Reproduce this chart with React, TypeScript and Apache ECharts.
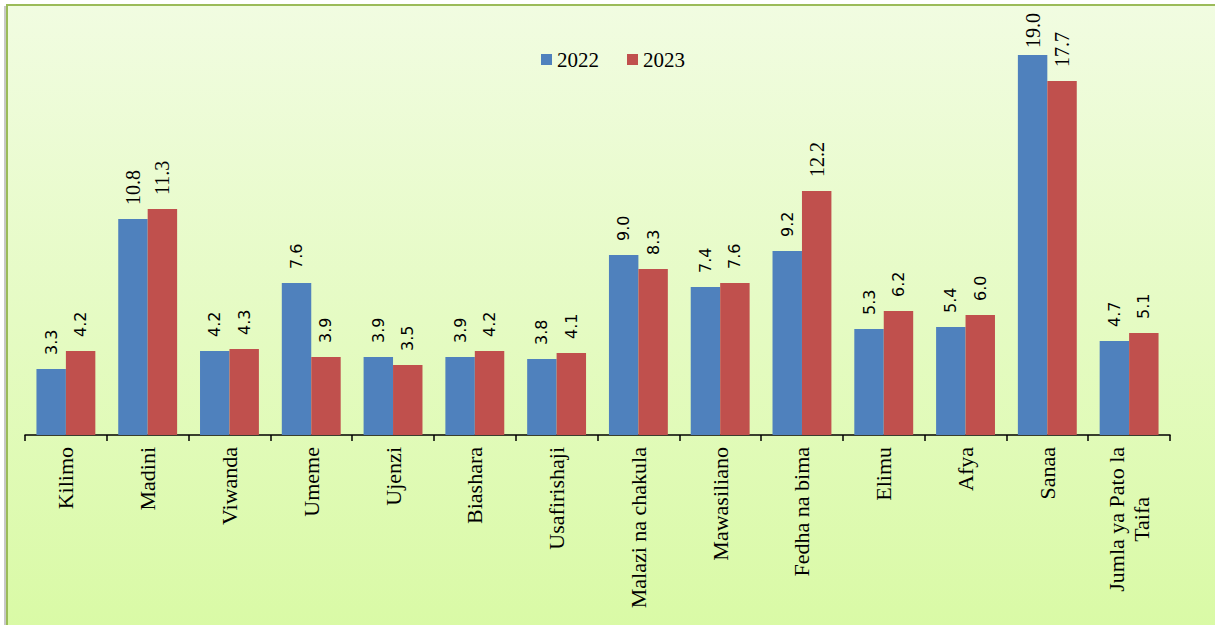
import React, { useEffect, useRef } from "react";
import * as echarts from "echarts";

const categories = [
  "Kilimo",
  "Madini",
  "Viwanda",
  "Umeme",
  "Ujenzi",
  "Biashara",
  "Usafirishaji",
  "Malazi na chakula",
  "Mawasiliano",
  "Fedha na bima",
  "Elimu",
  "Afya",
  "Sanaa",
  "Jumla ya Pato la\nTaifa",
];
const values2022 = [3.3, 10.8, 4.2, 7.6, 3.9, 3.9, 3.8, 9.0, 7.4, 9.2, 5.3, 5.4, 19.0, 4.7];
const values2023 = [4.2, 11.3, 4.3, 3.9, 3.5, 4.2, 4.1, 8.3, 7.6, 12.2, 6.2, 6.0, 17.7, 5.1];
const seriesNames = ["2022", "2023"];
const colors = ["#4F81BD", "#C0504D"];

const SERIF = "'Liberation Serif', 'Times New Roman', serif";
const SANS = "'DejaVu Sans', sans-serif";

function toData(vals: number[]) {
  return vals.map((v) => ({
    value: v,
    label: {
      fontFamily: v >= 10 ? SERIF : SANS,
      fontSize: v >= 10 ? 20 : 16,
      distance: v >= 18.5 ? 7 : 14,
    },
  }));
}

export default function App() {
  const ref = useRef<HTMLDivElement>(null);
  useEffect(() => {
    if (!ref.current) return;
    const chart = echarts.init(ref.current, undefined, { renderer: "svg" });
    const labelCfg = {
      show: true,
      position: "top",
      rotate: 90,
      align: "left",
      verticalAlign: "middle",
      color: "#000",
      formatter: (p: any) => Number(p.value).toFixed(1),
    };
    chart.setOption({
      animation: false,
      graphic: [
        {
          type: "line",
          z: -10,
          shape: { x1: 5, y1: 6, x2: 5, y2: 630 },
          style: { stroke: "#C8C8C8", lineWidth: 2 },
        },
        {
          type: "rect",
          z: -10,
          shape: { x: 7, y: 5, width: 1220, height: 630 },
          style: {
            fill: new echarts.graphic.LinearGradient(0, 0, 0, 1, [
              { offset: 0, color: "#F1FCE1" },
              { offset: 1, color: "#D9FAA5" },
            ]),
            stroke: "#9BBB59",
            lineWidth: 2,
          },
        },
      ],
      legend: {
        data: seriesNames,
        left: 536,
        top: 44,
        itemWidth: 11,
        itemHeight: 11,
        itemGap: 28,
        icon: "rect",
        textStyle: { fontFamily: SERIF, fontSize: 21, color: "#000" },
      },
      grid: { left: 25, right: 45, top: 35, bottom: 190, containLabel: false },
      xAxis: {
        type: "category",
        data: categories,
        axisLine: { lineStyle: { color: "#000", width: 1.5 } },
        axisTick: { show: true, length: 6, lineStyle: { color: "#000", width: 1.5 } },
        axisLabel: {
          rotate: 90,
          interval: 0,
          margin: 12,
          color: "#000",
          fontFamily: SERIF,
          fontSize: 22,
          formatter: (v: string) =>
            v
              .split("\n")
              .map((l) => "{a|" + l + "}")
              .join("\n"),
          rich: {
            a: { align: "center", fontFamily: SERIF, fontSize: 22, color: "#000", lineHeight: 25 },
          },
        },
      },
      yAxis: {
        type: "value",
        min: 0,
        max: 20,
        show: false,
        splitLine: { show: false },
      },
      series: [
        {
          name: seriesNames[0],
          type: "bar",
          data: toData(values2022),
          itemStyle: { color: colors[0] },
          barWidth: "36%",
          barGap: "0%",
          label: labelCfg,
        },
        {
          name: seriesNames[1],
          type: "bar",
          data: toData(values2023),
          itemStyle: { color: colors[1] },
          barWidth: "36%",
          barGap: "0%",
          label: labelCfg,
        },
      ],
    });
    return () => chart.dispose();
  }, []);
  return (
    <div
      ref={ref}
      style={{ position: "fixed", left: 0, top: 0, width: 1215, height: 625, background: "#fff" }}
    />
  );
}
